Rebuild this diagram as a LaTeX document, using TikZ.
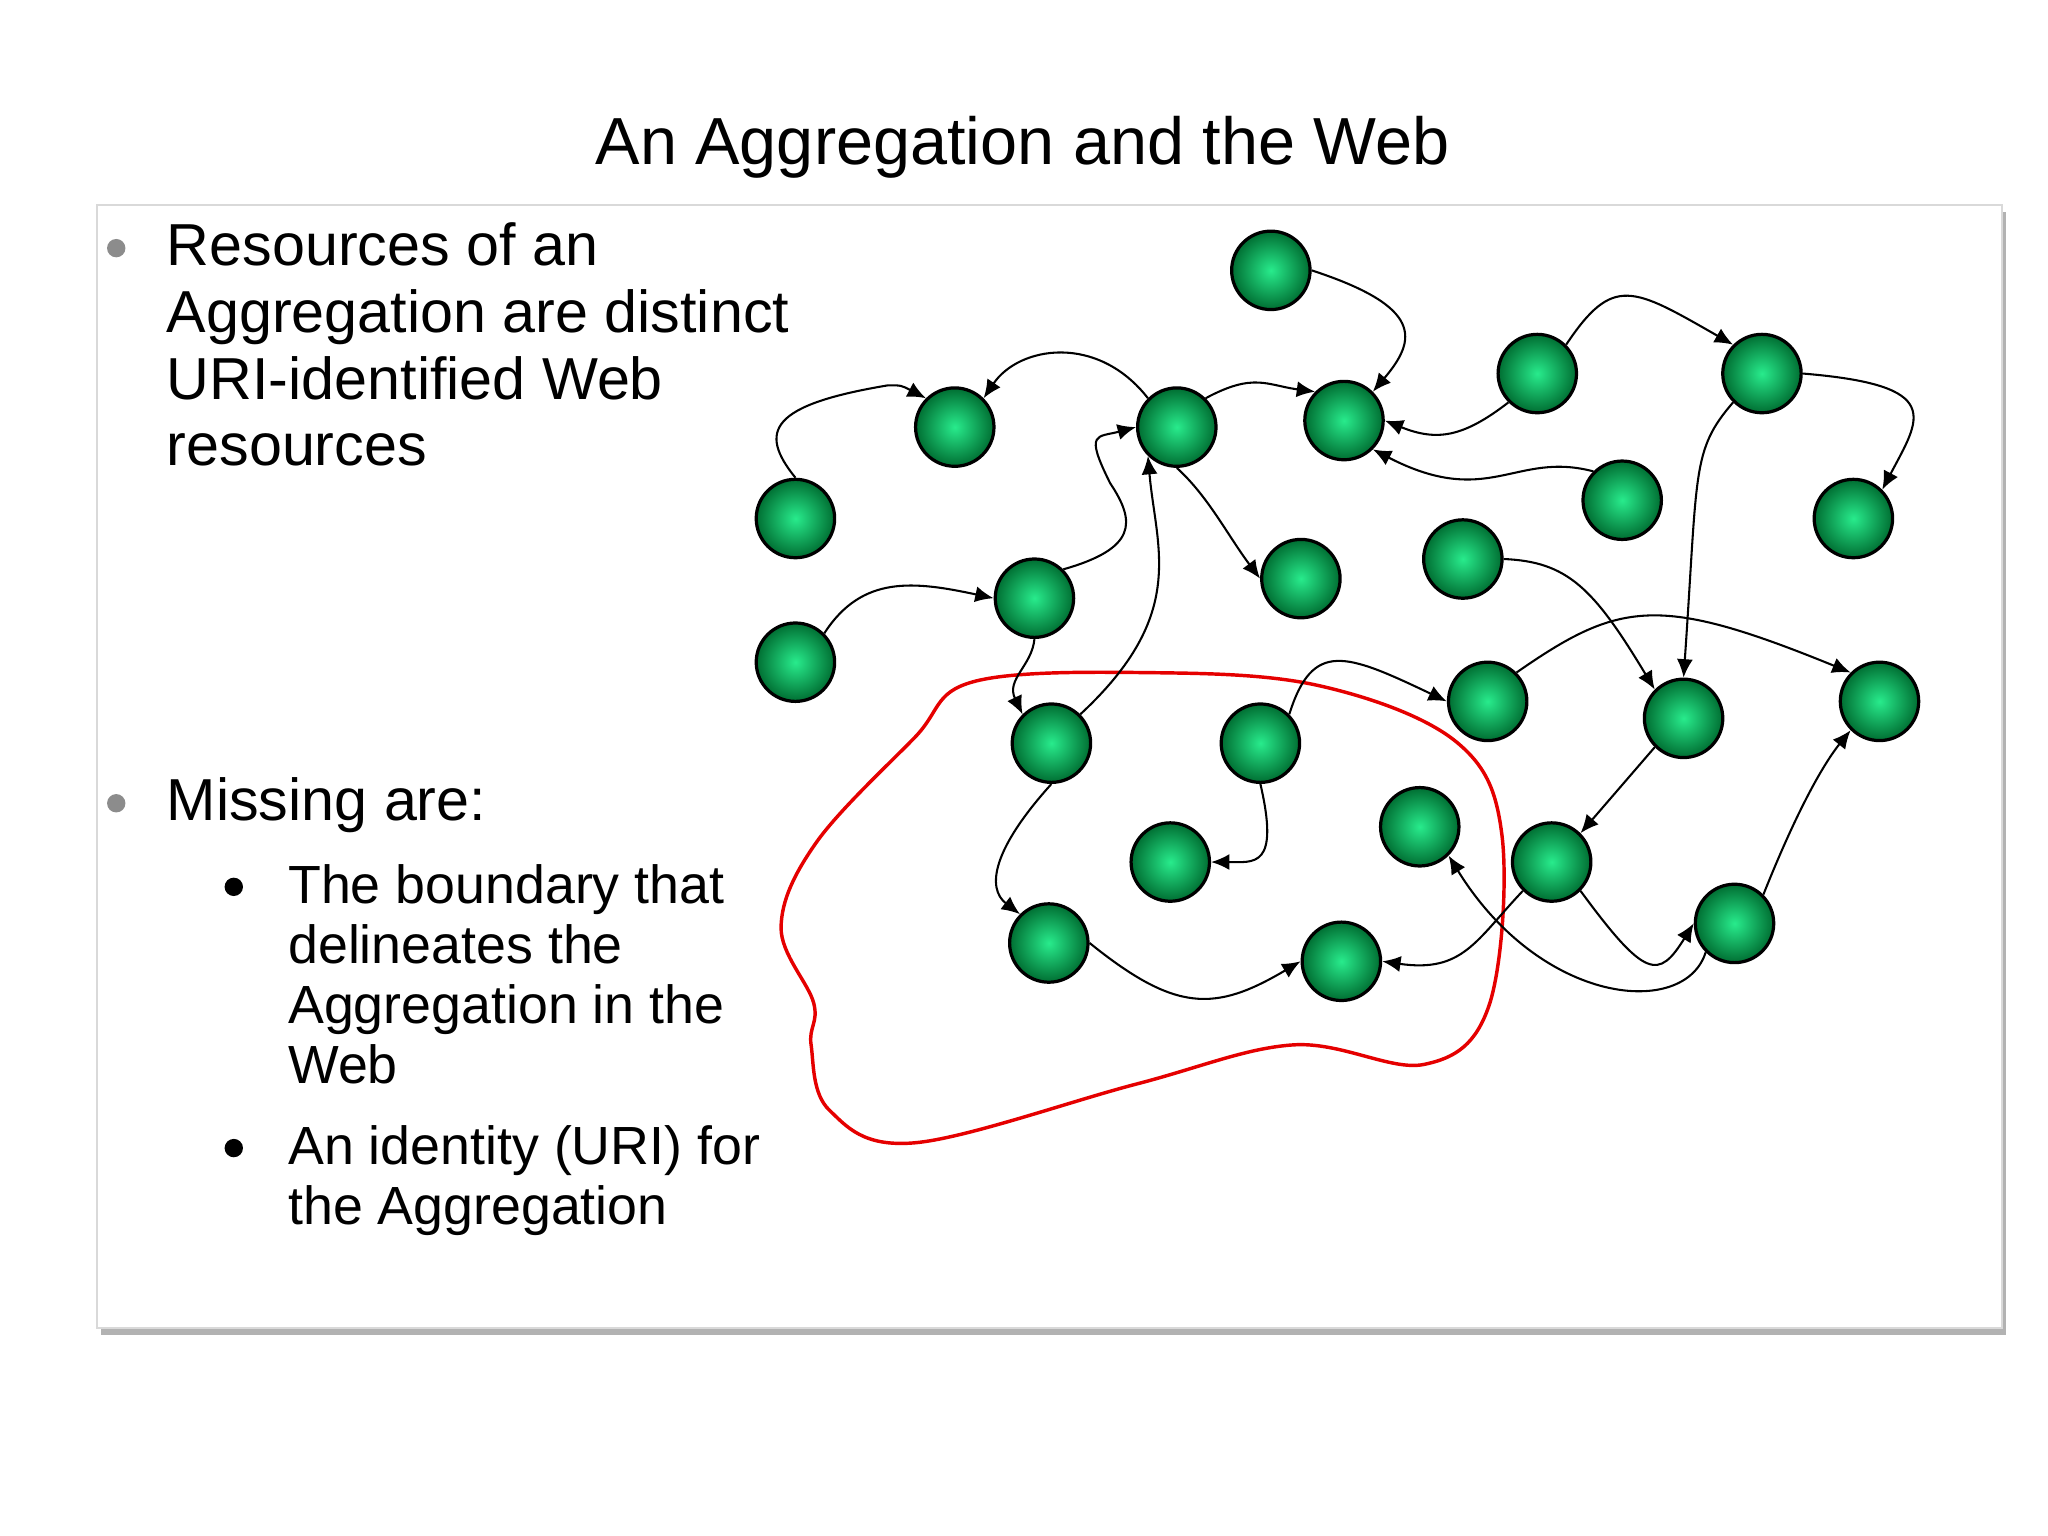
\documentclass[tikz,border=0pt]{standalone}
\usepackage{fontspec}
\setmainfont{Liberation Sans}
\usetikzlibrary{arrows.meta,shadows,calc}
\begin{document}
\begin{tikzpicture}[x=0.01cm,y=-0.01cm,
  res/.style={circle,minimum size=0.6cm,inner sep=0pt,draw=black,line width=0.7pt,
    shading=radial,inner color={rgb,255:red,40;green,235;blue,140},outer color={rgb,255:red,0;green,110;blue,50}},
  lnk/.style={line width=0.45pt,-{Latex[length=4pt,width=3.5pt]}},
  bul/.style={circle,fill=#1,inner sep=0pt,minimum size=4pt},
  mtxt/.style={anchor=north west,align=left,inner sep=0pt,font=\fontsize{12.9}{14.5}\selectfont},
  stxt/.style={anchor=north west,align=left,inner sep=0pt,font=\fontsize{11.7}{13.1}\selectfont}]
\useasboundingbox (0,0) rectangle (1568,1176);
\fill[black!30] (77,162) rectangle (1536,1022);
\fill[white,draw=black!15] (74,157) rectangle (1533,1017);
\node[font=\fontsize{14.5}{17}\selectfont] (title) at (783,113) {An Aggregation and the Web};
% text
\node[bul=black!45] (b1) at (89,190) {};
\node[mtxt] (t1) at (127,170) {Resources of an\\Aggregation are distinct\\URI-identified Web\\resources};
\node[bul=black!45] (b2) at (89,615) {};
\node[mtxt] (t2) at (127,595) {Missing are:};
\node[bul=black] (b3) at (179,679) {};
\node[stxt] (t3) at (220,661) {The boundary that\\delineates the\\Aggregation in the\\Web};
\node[bul=black] (b4) at (179,879) {};
\node[stxt] (t4) at (220,861) {An identity (URI) for\\the Aggregation};
% red boundary
\draw[red!90!black,line width=0.75pt] plot[smooth cycle,tension=0.6] coordinates {
 (623,768) (598,710) (625,645) (700,565) (745,522) (880,515) (1010,525) (1115,568)
 (1150,640) (1140,770) (1090,815) (990,800) (870,830) (700,875) (635,850) (621,800)};
% nodes
\foreach \n/\x/\y in {A/973/207,B/731/327,C/901/327,D/1029/322,E/1177/286,F/1349/286,
 G/609/397,H/1242/383,I/1419/397,J/996/443,K/1120/428,L/792/458,M/609/507,N/1139/537,
 O/1289/550,P/1439/537,Q/805/569,R/965/569,S/1087/633,T/896/660,U/1188/660,V/803/722,
 W/1027/736,X/1328/707}
 \node[res] (\n) at (\x,\y) {};
% links
\draw[lnk] (A.east) .. controls (1090,235) and (1085,260) .. (D.north east);
\draw[lnk] (E.south west) .. controls (1120,335) and (1100,338) .. (D.east);
\draw[lnk] (C.north east) .. controls (960,285) and (970,295) .. (D.north west);
\draw[lnk] (C.north west) .. controls (840,255) and (780,265) .. (B.north east);
\draw[lnk] (G.north) .. controls (580,330) and (590,310) .. (680,295) .. controls (690,295) .. (B.north west);
\draw[lnk] (C.south) .. controls (925,380) and (940,410) .. (J.west);
\draw[lnk] (M.north east) .. controls (660,440) and (700,445) .. (L.west);
\draw[lnk] (L.north east) .. controls (870,420) and (870,400) .. (850,370) .. controls (830,330) and (840,335) .. (C.west);
\draw[lnk] (Q.north east) .. controls (910,470) and (885,420) .. (C.south west);
\draw[lnk] (L.south) .. controls (790,510) and (770,520) .. (Q.north west);
\draw[lnk] (E.north east) .. controls (1235,210) and (1250,220) .. (F.north west);
\draw[lnk] (F.south west) .. controls (1295,345) and (1300,360) .. (O.north);
\draw[lnk] (F.east) .. controls (1490,295) and (1470,320) .. (I.north east);
\draw[lnk] (H.north west) .. controls (1160,345) and (1140,390) .. (D.south east);
\draw[lnk] (K.east) .. controls (1200,430) and (1220,450) .. (O.north west);
\draw[lnk] (N.north east) .. controls (1240,460) and (1270,455) .. (P.north west);
\draw[lnk] (R.north east) .. controls (1005,490) and (1030,500) .. (N.west);
\draw[lnk] (O.south west) -- (U.north east);
\draw[lnk] (R.south) .. controls (980,665) and (960,660) .. (T.east);
\draw[lnk] (Q.south) .. controls (760,650) and (755,680) .. (V.north west);
\draw[lnk] (V.east) .. controls (900,775) and (930,775) .. (W.west);
\draw[lnk] (U.south west) .. controls (1130,720) and (1120,745) .. (W.east);
\draw[lnk] (U.south east) .. controls (1260,750) and (1270,750) .. (X.west);
\draw[lnk] (X.north east) .. controls (1380,610) and (1400,580) .. (P.south west);
\draw[lnk] (X.south west) .. controls (1290,780) and (1180,770) .. (S.south east);
\end{tikzpicture}
\end{document}
